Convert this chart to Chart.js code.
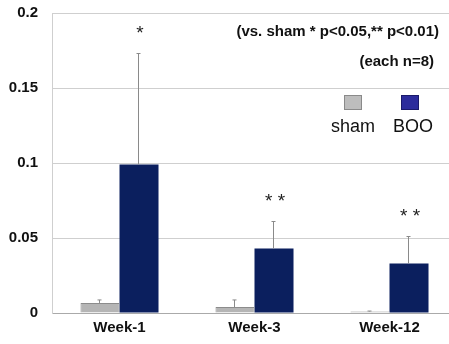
<!DOCTYPE html>
<html>
<head>
<meta charset="utf-8">
<script src="https://cdn.jsdelivr.net/npm/chart.js@4/dist/chart.umd.min.js"></script>
<style>
  html,body{margin:0;padding:0;background:#fff;overflow:hidden;}
  #wrap{position:absolute;left:0;top:0;width:458px;height:344px;}
</style>
</head>
<body>
<div id="wrap"><canvas id="grafik" width="458" height="344"></canvas></div>
<script>
const weeks = ["Week-1", "Week-3", "Week-12"];
const sham = [0.0067, 0.004, 0.001];
const shamErr = [0.002, 0.0047, 0.0003];
const boo = [0.099, 0.043, 0.033];
const booErr = [0.074, 0.018, 0.018];
const stars = ["*", "**", "**"];
const yTicks = [0, 0.05, 0.1, 0.15, 0.2];

const FONT = "'Liberation Sans', Arial, sans-serif";

// error bars, asterisks, notes and legend
const extras = {
  id: "extras",
  afterDatasetsDraw(chart){
    const ctx = chart.ctx;
    const y = chart.scales.y;
    const errs = [shamErr, booErr];
    ctx.save();
    ctx.strokeStyle = "#8a8a8a";
    ctx.lineWidth = 1;
    chart.data.datasets.forEach((ds, i) => {
      chart.getDatasetMeta(i).data.forEach((bar, j) => {
        const x = Math.round(bar.x) - 0.5;
        const top = y.getPixelForValue(ds.data[j] + errs[i][j]);
        ctx.beginPath();
        ctx.moveTo(x, bar.y);
        ctx.lineTo(x, top);
        ctx.moveTo(x - 2, top);
        ctx.lineTo(x + 2, top);
        ctx.stroke();
      });
    });

    ctx.fillStyle = "#222";
    ctx.font = "19px " + FONT;
    ctx.textAlign = "center";
    ctx.textBaseline = "middle";
    chart.getDatasetMeta(1).data.forEach((bar, j) => {
      const top = y.getPixelForValue(boo[j] + booErr[j]);
      const s = stars[j].split("").join(" ");
      ctx.fillText(s, bar.x + 1, top - 20);
    });

    ctx.fillStyle = "#111";
    ctx.font = "bold 15px " + FONT;
    ctx.textAlign = "right";
    ctx.fillText("(vs. sham * p<0.05,** p<0.01)", 439, 32);
    ctx.fillText("(each n=8)", 434, 62);

    // legend
    ctx.fillStyle = "#bdbdbd";
    ctx.fillRect(344, 95, 18, 15);
    ctx.strokeStyle = "#8a8a8a";
    ctx.strokeRect(344.5, 95.5, 17, 14);
    ctx.fillStyle = "#2c2c9c";
    ctx.fillRect(401, 95, 18, 15);
    ctx.strokeStyle = "#1a1a6a";
    ctx.strokeRect(401.5, 95.5, 17, 14);
    ctx.fillStyle = "#111";
    ctx.font = "18px " + FONT;
    ctx.textAlign = "center";
    ctx.fillText("sham", 353, 127);
    ctx.fillText("BOO", 413, 127);
    ctx.restore();
  }
};

new Chart(document.getElementById("grafik"), {
  type: "bar",
  data: {
    labels: weeks,
    datasets: [
      {label: "sham", data: sham, backgroundColor: "#b5b5b5", borderColor: "#8c8c8c", borderWidth: 1},
      {label: "BOO", data: boo, backgroundColor: "#0b1f5e", borderColor: "#0b1f5e", borderWidth: 0}
    ]
  },
  options: {
    responsive: false,
    animation: false,
    layout: {padding: {top: 13, right: 1, bottom: 0, left: 0}},
    plugins: {legend: {display: false}, tooltip: {enabled: false}},
    datasets: {bar: {categoryPercentage: 0.578, barPercentage: 1}},
    scales: {
      x: {
        grid: {display: false, drawTicks: false},
        border: {color: "#aaa"},
        ticks: {color: "#111", font: {family: FONT, size: 15, weight: "bold"}, padding: 6},
        afterFit(s){ s.height = 31; s.paddingLeft = 0; s.paddingRight = 0; }
      },
      y: {
        min: 0, max: 0.2,
        afterBuildTicks(s){ s.ticks = yTicks.map(v => ({value: v})); },
        grid: {color: "#cfcfcf", drawTicks: false},
        border: {color: "#cfcfcf"},
        ticks: {color: "#111", font: {family: FONT, size: 15, weight: "bold"}, padding: 14,
          callback: v => String(v)},
        afterFit(s){ s.width = 52; s.paddingTop = 0; s.paddingBottom = 0; }
      }
    }
  },
  plugins: [extras]
});
</script>
</body>
</html>
